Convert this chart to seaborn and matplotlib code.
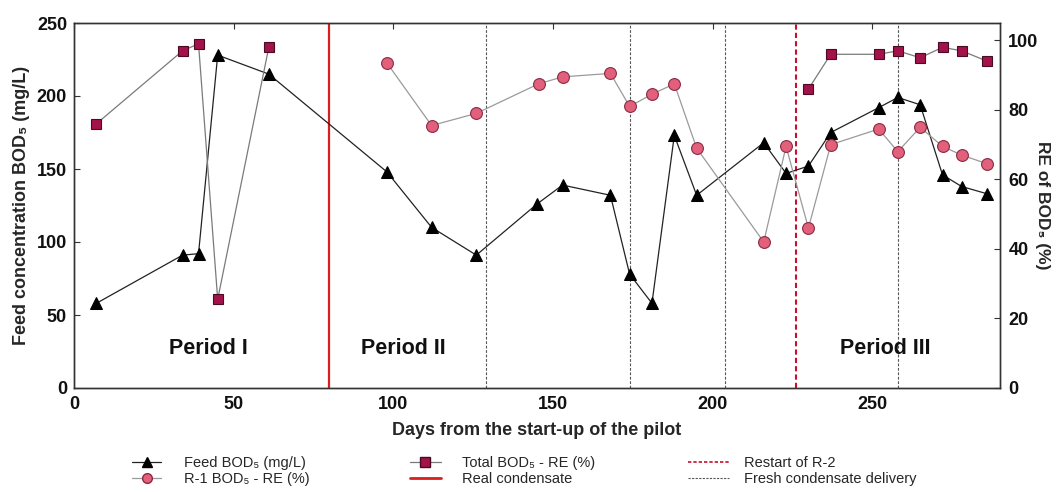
import numpy as np
import pandas as pd
import matplotlib
matplotlib.use("Agg")
import matplotlib.pyplot as plt
from matplotlib.lines import Line2D
import seaborn as sns

# ---------------- data ----------------
feed_days = [7, 34, 39, 45, 61, 98, 112, 126, 145, 153, 168, 174, 181, 188, 195,
             216, 223, 230, 237, 252, 258, 265, 272, 278, 286]
feed_bod = [58, 91, 92, 228, 215, 148, 110, 91, 126, 139, 132, 78, 58, 173, 132,
            168, 147, 152, 175, 192, 199, 194, 146, 138, 133]

r1_days = [98, 112, 126, 145.5, 153, 168, 174, 181, 188, 195, 216, 223, 230, 237,
           252, 258, 265, 272, 278, 286]
r1_re = [93.5, 75.5, 79, 87.5, 89.5, 90.5, 81, 84.5, 87.5, 69, 42, 69.5, 46, 70,
         74.5, 68, 75, 69.5, 67, 64.5]

total_days = [7, 34, 39, 45, 61, 230, 237, 252, 258, 265, 272, 278, 286]
total_re = [76, 97, 99, 25.5, 98, 86, 96, 96, 97, 95, 98, 97, 94]
total_segment = [1, 1, 1, 1, 1, 2, 2, 2, 2, 2, 2, 2, 2]

real_condensate_day = 80
restart_r2_day = 226
fresh_delivery_days = [129, 174, 204, 258]

period_labels = ["Period I", "Period II", "Period III"]
period_x = [42, 103, 254]

x_ticks = [0, 50, 100, 150, 200, 250]
left_ticks = [0, 50, 100, 150, 200, 250]
right_ticks = [0, 20, 40, 60, 80, 100]

feed_df = pd.DataFrame({"day": feed_days, "bod": feed_bod})
r1_df = pd.DataFrame({"day": r1_days, "re": r1_re})
total_df = pd.DataFrame({"day": total_days, "re": total_re, "seg": total_segment})

# ---------------- style ----------------
sns.set_theme(style="white")
plt.rcParams["font.family"] = ["Liberation Sans", "DejaVu Sans"]
plt.rcParams["axes.edgecolor"] = "#333333"
plt.rcParams["axes.linewidth"] = 1.0

FONTS = ["Liberation Sans", "DejaVu Sans"]

W, H = 1062, 492
fig = plt.figure(figsize=(W / 100, H / 100), dpi=100)
ax = fig.add_axes([74 / W, 1 - 388 / H, (1000 - 74) / W, (388 - 23) / H])
ax2 = ax.twinx()

sq_fill = "#A3124A"
sq_edge = "#4A0A22"
ci_fill = "#E3607D"
ci_edge = "#8A2A40"

# Feed BOD on left axis
sns.lineplot(data=feed_df, x="day", y="bod", ax=ax, color="#222222", lw=0.9,
             marker="^", markersize=8.5, markerfacecolor="black",
             markeredgecolor="black", sort=False, estimator=None, zorder=3)

# vertical markers
ax.axvline(real_condensate_day, color="#D62020", lw=1.6, zorder=2)
ax.axvline(restart_r2_day, color="#C8102E", lw=1.5, ls=(0, (2.5, 1.5)), zorder=2)
for d in fresh_delivery_days:
    ax.axvline(d, color="#555555", lw=0.8, ls=(0, (2.5, 1.5)), zorder=2)

# RE series on right axis
sns.lineplot(data=r1_df, x="day", y="re", ax=ax2, color="#9a9a9a", lw=0.9,
             marker="o", markersize=8.5, markerfacecolor=ci_fill,
             markeredgecolor=ci_edge, markeredgewidth=0.8, sort=False,
             estimator=None, zorder=3)
sns.lineplot(data=total_df, x="day", y="re", units="seg", ax=ax2, color="#7a7a7a",
             lw=0.9, marker="s", markersize=7.5, markerfacecolor=sq_fill,
             markeredgecolor=sq_edge, markeredgewidth=0.8, sort=False,
             estimator=None, zorder=3)

# axes limits and ticks
ax.set_xlim(0, 290)
ax.set_ylim(0, 250)
ax2.set_ylim(0, 105)
ax.set_xticks(x_ticks)
ax.set_yticks(left_ticks)
ax2.set_yticks(right_ticks)

for a in (ax, ax2):
    a.tick_params(direction="in", length=4, width=0.8, colors="#333333",
                  labelcolor="#111111", labelsize=13)
ax.tick_params(axis="x", top=True, pad=6)
ax.tick_params(axis="y", pad=5)
ax2.tick_params(axis="y", pad=6)
for lab in ax.get_xticklabels() + ax.get_yticklabels() + ax2.get_yticklabels():
    lab.set_fontweight("bold")
    lab.set_family(FONTS)

ax.set_xlabel("Days from the start-up of the pilot", fontsize=13, fontweight="bold",
              family=FONTS, labelpad=6)
ax.set_ylabel("Feed concentration BOD\u2085 (mg/L)", fontsize=13, fontweight="bold",
              family=FONTS, labelpad=5)
ax2.set_ylabel("RE of BOD\u2085 (%)", fontsize=12.5, fontweight="bold", family=FONTS,
               rotation=270, labelpad=8)
ax.grid(False)
ax2.grid(False)

for lbl, xp in zip(period_labels, period_x):
    ax.text(xp, 27, lbl, ha="center", va="center", fontsize=15.5,
            fontweight="bold", family=FONTS, color="#111111")

# legend: three columns placed like the reference
col1 = [Line2D([], [], color="#222222", lw=0.9, marker="^", markersize=7,
               markerfacecolor="black", markeredgecolor="black"),
        Line2D([], [], color="#9a9a9a", lw=0.9, marker="o", markersize=7,
               markerfacecolor=ci_fill, markeredgecolor=ci_edge)]
col2 = [Line2D([], [], color="#7a7a7a", lw=0.9, marker="s", markersize=6.5,
               markerfacecolor=sq_fill, markeredgecolor=sq_edge),
        Line2D([], [], color="#D62020", lw=2.0)]
col3 = [Line2D([], [], color="#C8102E", lw=1.2, ls=(0, (2, 1.2))),
        Line2D([], [], color="#555555", lw=0.8, ls=(0, (2, 1.2)))]
lab1 = ["Feed BOD\u2085 (mg/L)", "R-1 BOD\u2085 - RE (%)"]
lab2 = ["Total BOD\u2085 - RE (%)", "Real condensate"]
lab3 = ["Restart of R-2", "Fresh condensate delivery"]

leg_y = 1 - 471 / H
for hs, ls_, x0, hl, tp in [(col1, lab1, 132, 2.0, 1.55),
                            (col2, lab2, 410, 2.1, 1.5),
                            (col3, lab3, 688, 2.8, 1.05)]:
    fig.legend(hs, ls_, loc="center left", bbox_to_anchor=(x0 / W, leg_y),
               frameon=False, borderpad=0, borderaxespad=0, handlelength=hl,
               handletextpad=tp, labelspacing=0.15,
               prop={"family": FONTS, "size": 10.5})

fig.savefig("out.png", dpi=100)
